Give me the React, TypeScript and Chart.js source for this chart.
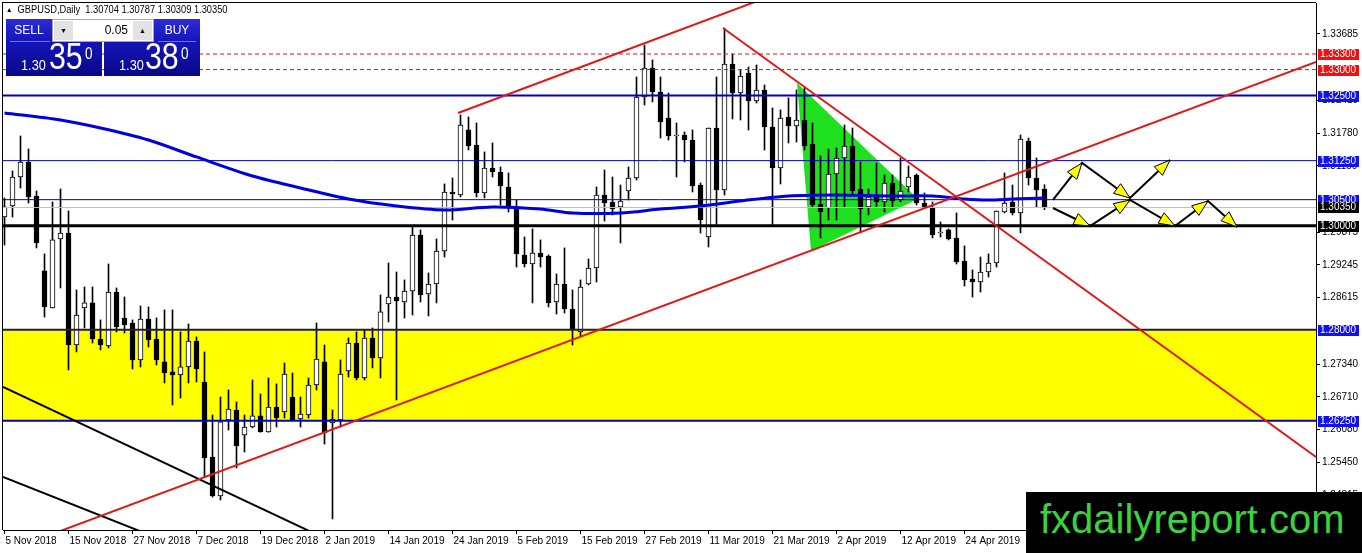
import React, { useEffect, useRef } from 'react';
import { Chart, registerables } from 'chart.js';

Chart.register(...registerables);

const W = 1362;
const H = 553;

// ---------------- data ----------------
const tickIndex = [0, 8, 16, 24, 32, 40, 48, 56, 64, 72, 80, 88, 96, 104, 112, 120];
const tickLabels = [
  '5 Nov 2018', '15 Nov 2018', '27 Nov 2018', '7 Dec 2018', '19 Dec 2018', '2 Jan 2019',
  '14 Jan 2019', '24 Jan 2019', '5 Feb 2019', '15 Feb 2019', '27 Feb 2019', '11 Mar 2019',
  '21 Mar 2019', '2 Apr 2019', '12 Apr 2019', '24 Apr 2019',
];
const priceTicks = [
  1.33685, 1.3241, 1.3178, 1.3115, 1.29875, 1.29245, 1.28615,
  1.2734, 1.2671, 1.2608, 1.2545, 1.24815,
];

const opens = [
  1.30167, 1.30379, 1.30936, 1.31224, 1.30571, 1.2913, 1.28418, 1.29745, 1.2986, 1.27707,
  1.28418, 1.28515, 1.27822, 1.27688, 1.28726, 1.28226, 1.2813, 1.27419, 1.28207, 1.27822,
  1.27381, 1.27189, 1.27131, 1.27285, 1.27784, 1.26996, 1.25554, 1.24805, 1.26266, 1.26458,
  1.25977, 1.26131, 1.26343, 1.26035, 1.26515, 1.26419, 1.26708, 1.26285, 1.26362, 1.26938,
  1.27381, 1.26208, 1.26266, 1.27208, 1.27746, 1.27073, 1.27842, 1.27458, 1.28495, 1.2863,
  1.28534, 1.28745, 1.29821, 1.28688, 1.2888, 1.29514, 1.30648, 1.3059, 1.3184, 1.31551,
  1.30629, 1.31109, 1.31032, 1.30744, 1.3036, 1.29437, 1.29264, 1.29475, 1.29418, 1.28534,
  1.2888, 1.28399, 1.27958, 1.2888, 1.29187, 1.3059, 1.30456, 1.3036, 1.30667, 1.30917,
  1.32474, 1.33031, 1.3257, 1.3207, 1.31724, 1.31743, 1.31647, 1.30782, 1.29783, 1.31878,
  1.30686, 1.33108, 1.32551, 1.32935, 1.32397, 1.32608, 1.31897, 1.31109, 1.32089, 1.31916,
  1.32032, 1.3157, 1.30417, 1.3034, 1.30994, 1.31301, 1.31532, 1.30705, 1.3036, 1.30552,
  1.30456, 1.30821, 1.30494, 1.30744, 1.30975, 1.30436, 1.3034, 1.2986, 1.29918, 1.29764,
  1.29322, 1.28976, 1.28918, 1.2911, 1.29283, 1.30263, 1.30456, 1.30244, 1.31628, 1.30917,
  1.30704,
];
const highs = [
  1.30532, 1.31052, 1.31724, 1.31474, 1.30667, 1.29456, 1.30456, 1.30705, 1.30283, 1.28765,
  1.28822, 1.28822, 1.28188, 1.29264, 1.28803, 1.2863, 1.28188, 1.28457, 1.28438, 1.28226,
  1.2838, 1.2838, 1.27958, 1.28111, 1.27861, 1.27573, 1.26362, 1.26708, 1.26842, 1.26612,
  1.26362, 1.27035, 1.26765, 1.27073, 1.26958, 1.27361, 1.27169, 1.26708, 1.27073, 1.2813,
  1.27707, 1.26458, 1.27419, 1.27842, 1.27958, 1.27996, 1.28034, 1.28669, 1.29283, 1.2911,
  1.28957, 1.29975, 1.29918, 1.29091, 1.29745, 1.30802, 1.30917, 1.32128, 1.32089, 1.31974,
  1.31417, 1.3159, 1.31128, 1.31013, 1.30494, 1.29783, 1.29937, 1.29726, 1.29437, 1.29072,
  1.29572, 1.28765, 1.28957, 1.2936, 1.30744, 1.31071, 1.30936, 1.30782, 1.31128, 1.32858,
  1.33473, 1.33185, 1.32858, 1.32551, 1.31974, 1.31801, 1.3184, 1.30821, 1.31878, 1.32858,
  1.338, 1.333, 1.32993, 1.3305, 1.33089, 1.32704, 1.32262, 1.32224, 1.32455, 1.32608,
  1.32666, 1.31974, 1.3134, 1.31474, 1.31493, 1.31936, 1.31878, 1.31224, 1.30705, 1.31205,
  1.30975, 1.30975, 1.31301, 1.31148, 1.30994, 1.30629, 1.30456, 1.30071, 1.29937, 1.30244,
  1.2961, 1.29149, 1.29398, 1.29456, 1.30283, 1.31013, 1.30782, 1.31743, 1.31686, 1.31301,
  1.30787,
];
const lows = [
  1.29629, 1.30167, 1.30725, 1.30436, 1.29572, 1.28245, 1.28418, 1.28803, 1.27227, 1.27573,
  1.28034, 1.27746, 1.27612, 1.2765, 1.27958, 1.27938, 1.27246, 1.27285, 1.27669, 1.27323,
  1.26977, 1.26554, 1.26688, 1.26977, 1.26996, 1.2517, 1.24786, 1.24728, 1.26074, 1.25343,
  1.25651, 1.26112, 1.2603, 1.2603, 1.26131, 1.26304, 1.26266, 1.26131, 1.26304, 1.26842,
  1.25804, 1.24363, 1.26131, 1.27092, 1.27035, 1.27035, 1.27266, 1.27073, 1.2815, 1.2665,
  1.28226, 1.28284, 1.28534, 1.28265, 1.28515, 1.29398, 1.3011, 1.30552, 1.31455, 1.30552,
  1.30532, 1.30936, 1.30398, 1.30263, 1.29206, 1.29206, 1.28515, 1.29206, 1.28438, 1.28303,
  1.28322, 1.27707, 1.27861, 1.28861, 1.28918, 1.30091, 1.30206, 1.29668, 1.30494, 1.30879,
  1.3232, 1.32378, 1.31686, 1.31647, 1.30936, 1.31224, 1.30648, 1.2986, 1.29591, 1.30013,
  1.3059, 1.32051, 1.32032, 1.3184, 1.32358, 1.31455, 1.30013, 1.30802, 1.3159, 1.31609,
  1.31455, 1.3036, 1.29764, 1.3011, 1.3011, 1.3036, 1.3059, 1.2986, 1.30206, 1.3036,
  1.30263, 1.3036, 1.30456, 1.30648, 1.30398, 1.3034, 1.29764, 1.29783, 1.29726, 1.29264,
  1.28841, 1.2863, 1.28726, 1.29014, 1.29206, 1.30244, 1.30206, 1.2986, 1.30782, 1.3036,
  1.30309,
];
const closes = [
  1.3036, 1.30936, 1.31224, 1.30552, 1.29668, 1.28438, 1.29726, 1.2986, 1.27707, 1.28284,
  1.28515, 1.27822, 1.27707, 1.28726, 1.28053, 1.28092, 1.27419, 1.28207, 1.27803, 1.27419,
  1.27169, 1.27131, 1.27285, 1.27784, 1.27246, 1.25535, 1.24805, 1.26228, 1.26477, 1.25766,
  1.26131, 1.26343, 1.2604, 1.26515, 1.26304, 1.2715, 1.2627, 1.26381, 1.26938, 1.27438,
  1.26016, 1.26285, 1.2715, 1.27746, 1.27073, 1.27842, 1.27458, 1.28342, 1.2863, 1.28553,
  1.28745, 1.29821, 1.28669, 1.2888, 1.29514, 1.30648, 1.30609, 1.31936, 1.31532, 1.30629,
  1.31109, 1.31032, 1.30763, 1.3034, 1.29456, 1.29264, 1.29475, 1.29398, 1.28515, 1.2888,
  1.28399, 1.27996, 1.28822, 1.29187, 1.3059, 1.30436, 1.30321, 1.30475, 1.30917, 1.32474,
  1.33031, 1.3257, 1.31993, 1.31724, 1.31743, 1.31647, 1.30763, 1.3011, 1.31878, 1.30686,
  1.33108, 1.32551, 1.32877, 1.32397, 1.32608, 1.31897, 1.31109, 1.3207, 1.31916, 1.32032,
  1.31532, 1.30398, 1.30263, 1.30994, 1.31301, 1.31532, 1.30667, 1.30321, 1.30552, 1.30456,
  1.30821, 1.30475, 1.30667, 1.30936, 1.30436, 1.30345, 1.29821, 1.29865, 1.29745, 1.29302,
  1.28957, 1.28918, 1.2911, 1.29283, 1.30283, 1.30436, 1.30244, 1.31666, 1.30917, 1.30686,
  1.3035,
];

// 200-period moving average, read at sampled bars
const maIndex = [0, 7, 12, 18, 24, 31, 37, 43, 49, 55, 61, 67, 71, 77, 82, 87, 92, 98, 104, 111, 116, 120, 123, 126, 130];
const maValues = [
  1.32166, 1.32032, 1.31878, 1.31647, 1.31321, 1.30955, 1.30725, 1.30513, 1.30379, 1.30302,
  1.3036, 1.30321, 1.30244, 1.30244, 1.30321, 1.30379, 1.30475, 1.30571, 1.3059, 1.30571,
  1.30571, 1.30513, 1.30494, 1.30513, 1.30533,
];

// horizontal levels
const levelPrices = [1.333, 1.33, 1.325, 1.3125, 1.305, 1.3035, 1.3, 1.28, 1.2625];
const levelLabels = ['1.33300', '1.33000', '1.32500', '1.31250', '1.30500', '1.30350', '1.30000', '1.28000', '1.26250'];

// support zone
const zoneTop = 1.28;
const zoneBottom = 1.2625;

// pennant triangle
const triangleIdx = [99.06, 100.81, 114.19];
const trianglePrice = [1.32743, 1.29514, 1.30513];

// trend lines: red channel top, red channel bottom, red falling, two black lines
const trendStartIdx = [56.69, 5.0, 89.81, -0.1875, -0.1875];
const trendStartPrice = [1.32166, 1.24018, 1.338, 1.269, 1.2517];
const trendEndIdx = [96.0, 163.94, 163.94, 40.0, 18.0];
const trendEndPrice = [1.34427, 1.33146, 1.25555, 1.23994, 1.24064];

// projected zig-zag arrows
const upperPathIdx = [131.06, 134.69, 140.69, 145.69];
const upperPathPrice = [1.30494, 1.31205, 1.30532, 1.31263];
const lowerPathIdx = [131.06, 135.69, 140.69, 146.31, 150.44, 154.06];
const lowerPathPrice = [1.3034, 1.29994, 1.30494, 1.29994, 1.30475, 1.29975];

// ---------------- styles ----------------
const X_MIN = -0.1875;
const X_MAX = 163.9375;
const Y_MIN = 1.24151;
const Y_MAX = 1.3428;

const levelColors = ['#e01010', '#e01010', '#0000c8', '#0000b4', '#0000b4', '#c0c0c0', '#000000', '#202038', '#0000d0'];
const levelWidths = [1, 1, 2, 1, 1, 1, 3, 2, 2];
const levelDash = [[4, 3], [4, 3], [], [], [], [], [], [], []];
const levelLabelBg = ['#f01010', '#f01010', '#1010f0', '#1010f0', '#1010f0', '#000000', '#000000', '#1010f0', '#1010f0'];
const trendColors = ['#e01818', '#e01818', '#e01818', '#000000', '#000000'];

const axisFont = { family: '"Liberation Sans", Arial, sans-serif', size: 10 };

const overlayPlugin = {
  id: 'mtOverlay',
  afterDatasetsDraw(chart: any) {
    const { ctx, chartArea: ca } = chart;
    const xs = chart.scales.x;
    const ys = chart.scales.y;
    ctx.save();
    ctx.beginPath();
    ctx.rect(ca.left, ca.top, ca.right - ca.left, ca.bottom - ca.top);
    ctx.clip();
    const paths: [number[], number[]][] = [
      [upperPathIdx, upperPathPrice],
      [lowerPathIdx, lowerPathPrice],
    ];
    for (const [xi, pv] of paths) {
      for (let k = 1; k < xi.length; k++) {
        const x0 = xs.getPixelForValue(xi[k - 1]);
        const y0 = ys.getPixelForValue(pv[k - 1]);
        const x1 = xs.getPixelForValue(xi[k]);
        const y1 = ys.getPixelForValue(pv[k]);
        const a = Math.atan2(y1 - y0, x1 - x0);
        const L = 16;
        const hw = 6;
        const bx = x1 - L * Math.cos(a);
        const by = y1 - L * Math.sin(a);
        ctx.beginPath();
        ctx.moveTo(x1, y1);
        ctx.lineTo(bx - hw * Math.sin(a), by + hw * Math.cos(a));
        ctx.lineTo(bx + hw * Math.sin(a), by - hw * Math.cos(a));
        ctx.closePath();
        ctx.fillStyle = '#ffff00';
        ctx.fill();
        ctx.strokeStyle = '#000';
        ctx.lineWidth = 1;
        ctx.stroke();
      }
    }
    ctx.restore();
  },
  afterDraw(chart: any) {
    const { ctx, chartArea: ca } = chart;
    const ys = chart.scales.y;
    ctx.save();
    ctx.fillStyle = '#000';
    ctx.fillRect(ca.left - 1, ca.top - 1, ca.right - ca.left + 1, 1);
    ctx.fillRect(ca.left - 1, ca.top - 1, 1, ca.bottom - ca.top + 1);
    ctx.font = '10px "Liberation Sans", Arial, sans-serif';
    ctx.textBaseline = 'middle';
    ctx.textAlign = 'left';
    levelPrices.forEach((p, i) => {
      const py = Math.round(ys.getPixelForValue(p));
      ctx.fillStyle = levelLabelBg[i];
      ctx.fillRect(ca.right + 2, py - 5, 41, 11);
      ctx.fillStyle = '#ffffff';
      ctx.fillText(levelLabels[i], ca.right + 4, py + 0.5);
    });
    ctx.restore();
  },
};

function buildConfig(): any {
  const idx = opens.map((_, i) => i);
  const datasets: any[] = [];

  datasets.push({
    type: 'line',
    data: [
      { x: X_MIN, y: zoneTop }, { x: X_MAX, y: zoneTop },
      { x: X_MAX, y: zoneBottom }, { x: X_MIN, y: zoneBottom }, { x: X_MIN, y: zoneTop },
    ],
    borderColor: 'rgba(0,0,0,0)', borderWidth: 1, backgroundColor: '#ffff00', fill: 'shape',
    pointRadius: 0, tension: 0, clip: 0, order: 10,
  });
  datasets.push({
    type: 'line',
    data: [0, 1, 2, 0].map((k) => ({ x: triangleIdx[k], y: trianglePrice[k] })),
    borderColor: 'rgba(0,0,0,0)', borderWidth: 1, backgroundColor: '#1fe01f', fill: 'shape',
    pointRadius: 0, tension: 0, clip: 0, order: 9,
  });
  datasets.push({
    type: 'bar',
    data: idx.map((i) => ({ x: i, y: [lows[i], highs[i]] })),
    backgroundColor: '#000', borderWidth: 0, barThickness: 1, grouped: false, clip: 0, order: 6,
  });
  datasets.push({
    type: 'bar',
    data: idx.map((i) => ({ x: i, y: [opens[i], closes[i]] })),
    backgroundColor: idx.map((i) => (closes[i] >= opens[i] ? '#ffffff' : '#000000')),
    borderColor: '#000', borderWidth: 1, borderSkipped: false, barThickness: 5, minBarLength: 1,
    grouped: false, clip: 0, order: 5,
  });
  levelPrices.forEach((p, i) => {
    datasets.push({
      type: 'line',
      data: [{ x: X_MIN, y: p }, { x: X_MAX, y: p }],
      borderColor: levelColors[i], borderWidth: levelWidths[i], borderDash: levelDash[i],
      pointRadius: 0, fill: false, clip: 0, order: 4,
    });
  });
  datasets.push({
    type: 'line',
    data: maIndex.map((v, i) => ({ x: v, y: maValues[i] })),
    borderColor: '#0000dd', borderWidth: 3, pointRadius: 0, fill: false, tension: 0.3, clip: 0, order: 3,
  });
  trendStartIdx.forEach((s, i) => {
    datasets.push({
      type: 'line',
      data: [{ x: s, y: trendStartPrice[i] }, { x: trendEndIdx[i], y: trendEndPrice[i] }],
      borderColor: trendColors[i], borderWidth: 2, pointRadius: 0, fill: false, clip: 0, order: 2,
    });
  });
  [[upperPathIdx, upperPathPrice], [lowerPathIdx, lowerPathPrice]].forEach(([xi, pv]) => {
    datasets.push({
      type: 'line',
      data: xi.map((v, k) => ({ x: v, y: pv[k] })),
      borderColor: '#000', borderWidth: 2, pointRadius: 0, fill: false, clip: 0, order: 1,
    });
  });

  const zeroPad = (s: any) => {
    s.paddingLeft = 0; s.paddingRight = 0; s.paddingTop = 0; s.paddingBottom = 0;
  };

  return {
    type: 'bar',
    data: { datasets },
    plugins: [overlayPlugin],
    options: {
      responsive: false,
      maintainAspectRatio: false,
      animation: false,
      devicePixelRatio: 1,
      events: [],
      layout: { padding: { left: 3, top: 3, right: 0, bottom: 0 } },
      plugins: { legend: { display: false }, tooltip: { enabled: false } },
      scales: {
        x: {
          type: 'linear', min: X_MIN, max: X_MAX, offset: false, position: 'bottom',
          grid: { display: true, drawOnChartArea: false, drawTicks: true, tickLength: 4, color: '#000', offset: false },
          border: { display: true, color: '#000', width: 1 },
          ticks: {
            autoSkip: false, maxRotation: 0, minRotation: 0, align: 'start', labelOffset: 1, padding: 1,
            color: '#000', font: axisFont,
            callback: (_v: any, i: number) => tickLabels[i],
          },
          afterBuildTicks: (s: any) => { s.ticks = tickIndex.map((v) => ({ value: v })); },
          afterFit: (s: any) => { s.height = 23; zeroPad(s); },
        },
        y: {
          type: 'linear', min: Y_MIN, max: Y_MAX, position: 'right', beginAtZero: false,
          grid: { display: true, drawOnChartArea: false, drawTicks: true, tickLength: 4, color: '#000' },
          border: { display: true, color: '#000', width: 1 },
          ticks: {
            autoSkip: false, padding: 2, color: '#000', font: axisFont,
            callback: (v: any) => Number(v).toFixed(5),
          },
          afterBuildTicks: (s: any) => { s.ticks = priceTicks.map((v) => ({ value: v })); },
          afterFit: (s: any) => { s.width = 46; zeroPad(s); },
        },
      },
    },
  };
}

const panelGrad = 'linear-gradient(to bottom, #2b2bd9 0%, #1515b8 40%, #08088a 100%)';
const ff = '"Liberation Sans", Arial, sans-serif';

export default function App() {
  const ref = useRef<HTMLCanvasElement | null>(null);
  useEffect(() => {
    const chart = new Chart(ref.current as HTMLCanvasElement, buildConfig());
    return () => chart.destroy();
  }, []);

  const abs = (s: any) => ({ position: 'absolute', ...s });
  const small = (left: number) => abs({ left, top: 57, font: `15px ${ff}`, lineHeight: '15px', color: '#fff', transform: 'scaleX(0.85)', transformOrigin: 'left top', whiteSpace: 'nowrap' });
  const big = (left: number) => abs({ left, top: 38, font: `37px ${ff}`, lineHeight: '37px', color: '#fff', transform: 'scaleX(0.82)', transformOrigin: 'left top', whiteSpace: 'nowrap' });
  const sup = (left: number) => abs({ left, top: 46, font: `16px ${ff}`, lineHeight: '16px', color: '#fff', transform: 'scaleX(0.85)', transformOrigin: 'left top' });

  return (
    <div style={{ position: 'fixed', left: 0, top: 0, width: W, height: H, background: '#fff', overflow: 'hidden' }}>
      <canvas ref={ref} width={W} height={H} style={{ position: 'absolute', left: 0, top: 0, width: W, height: H }} />

      {/* title */}
      <div style={abs({ left: 6, top: 4, font: `10px ${ff}`, color: '#000', whiteSpace: 'pre', lineHeight: '12px', transform: 'scaleX(0.93)', transformOrigin: 'left top' })}>
        <span style={{ fontSize: 7, verticalAlign: 1 }}>▲</span>{'  GBPUSD,Daily  1.30704 1.30787 1.30309 1.30350'}
      </div>

      {/* one-click trading panel */}
      <div style={abs({ left: 6, top: 19, width: 96, height: 57, background: panelGrad })} />
      <div style={abs({ left: 104, top: 19, width: 96, height: 57, background: panelGrad })} />
      <div style={abs({ left: 6, top: 19, width: 46, height: 22, color: '#fff', font: `12px ${ff}`, textAlign: 'center', lineHeight: '22px' })}>SELL</div>
      <div style={abs({ left: 154, top: 19, width: 46, height: 22, color: '#fff', font: `12px ${ff}`, textAlign: 'center', lineHeight: '22px' })}>BUY</div>
      <div style={abs({ left: 10, top: 41, width: 40, height: 1, background: '#7070f0' })} />
      <div style={abs({ left: 158, top: 41, width: 38, height: 1, background: '#7070f0' })} />
      <div style={abs({ left: 52, top: 19, width: 102, height: 23, background: '#fff', border: '1px solid #a8a8a8', boxSizing: 'border-box' })}>
        <div style={abs({ left: 1, top: 1, width: 19, height: 19, background: '#e2e2e2', font: `7px ${ff}`, textAlign: 'center', lineHeight: '19px', color: '#000' })}>▼</div>
        <div style={abs({ left: 20, top: 0, width: 55, height: 21, font: `12px ${ff}`, textAlign: 'right', lineHeight: '21px', color: '#000' })}>0.05</div>
        <div style={abs({ left: 80, top: 1, width: 19, height: 19, background: '#e2e2e2', font: `7px ${ff}`, textAlign: 'center', lineHeight: '19px', color: '#000' })}>▲</div>
      </div>
      {/* sell price */}
      <div style={small(21)}>1.30</div>
      <div style={big(49)}>35</div>
      <div style={sup(85)}>0</div>
      {/* buy price */}
      <div style={small(119)}>1.30</div>
      <div style={big(145)}>38</div>
      <div style={sup(181)}>0</div>

      {/* watermark */}
      <div style={abs({ left: 1026, top: 492, width: 336, height: 61, background: '#000' })}>
        <div style={abs({ left: 14, top: 7, font: `40px ${ff}`, lineHeight: '40px', color: '#3cd23c', whiteSpace: 'nowrap' })}>fxdailyreport.com</div>
      </div>
    </div>
  );
}
